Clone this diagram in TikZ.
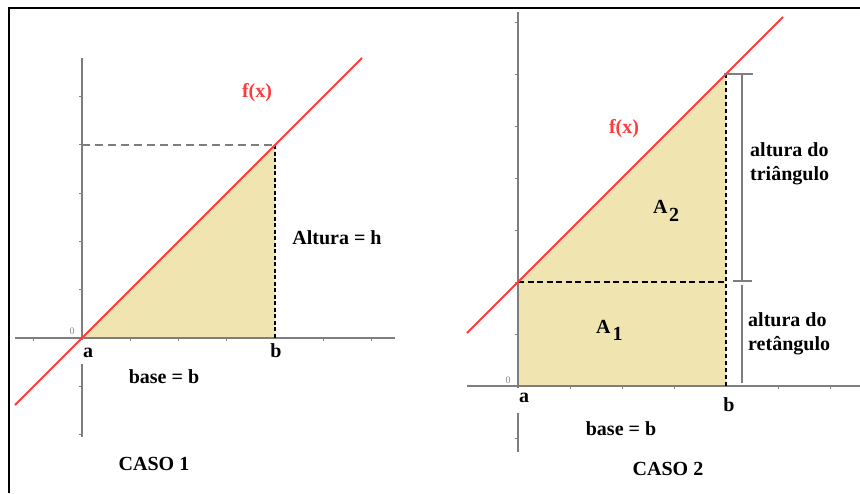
\documentclass[tikz,border=0pt]{standalone}
\usepackage{fontspec}
\setmainfont{Liberation Serif}
\definecolor{axgray}{HTML}{7E7E7E}
\definecolor{fxred}{HTML}{FF3B3B}
\definecolor{areafill}{HTML}{F0E4B0}
\definecolor{zerogray}{HTML}{8A8A8A}
\begin{document}
\begin{tikzpicture}[x=1pt,y=-1pt,
  axis/.style={draw=axgray,line width=1.4pt},
  tickmark/.style={draw=axgray,line width=1pt},
  fx/.style={draw=fxred,line width=2pt},
  graydash/.style={draw=axgray,line width=1.5pt,dash pattern=on 8pt off 5pt},
  blackdash/.style={draw=black,line width=2pt,dash pattern=on 4pt off 2.5pt},
  dimline/.style={draw=axgray,line width=1.3pt},
  lbl/.style={font=\fontsize{20}{23}\selectfont\bfseries,inner sep=0pt,anchor=base},
  redlbl/.style={lbl,text=fxred},
  zerolbl/.style={font=\fontsize{10}{10}\selectfont,text=zerogray,inner sep=0pt,anchor=base},
  frameline/.style={draw=black,line width=2.5pt}]
\useasboundingbox (0,0) rectangle (860,493);
% frame
\coordinate (FL) at (9,493);
\coordinate (FC) at (9,8);
\coordinate (FR) at (860,8);
\draw[frameline] (FL) -- (FC) -- (FR);

% ================= CASO 1 =================
\coordinate (O1) at (82,338);
\coordinate (B1) at (275,338);
\coordinate (T1) at (275,145);
\coordinate (Y1) at (82,145);
\coordinate (Ytop1) at (82,58);
\coordinate (Ygap1a) at (82,340);
\coordinate (Ygap1b) at (82,364);
\coordinate (Ybot1) at (82,437);
\coordinate (Xl1) at (15,338);
\coordinate (Xr1) at (395,338);
\coordinate (R1a) at (15,405);
\coordinate (R1b) at (362,58);
\fill[areafill] (O1) -- (B1) -- (T1) -- cycle;
\draw[axis] (Ytop1) -- (Ygap1a);
\draw[axis] (Ygap1b) -- (Ybot1);
\draw[axis] (Xl1) -- (Xr1);
\foreach \k in {1,2,3,4,5,-1,-2}
  \draw[tickmark] (82,{338-48.3*\k}) -- ++(-3,0);
\foreach \k in {-1,1,2,3,5,6}
  \draw[tickmark] ({82+48.3*\k},338) -- ++(0,3);
\draw[graydash] (Y1) -- (T1);
\draw[blackdash] (T1) -- (B1);
\draw[fx] (R1a) -- (R1b);
\node[redlbl] (fx1) at (257,97) {f(x)};
\node[lbl] (alt1) at (337,244) {Altura = h};
\node[lbl] (a1) at (88,357) {a};
\node[lbl] (b1) at (276,357) {b};
\node[lbl] (base1) at (164,383) {base = b};
\node[lbl] (caso1) at (154,470) {CASO 1};
\node[zerolbl] (z1) at (72,334) {0};

% ================= CASO 2 =================
\coordinate (O2) at (518,386);
\coordinate (B2) at (726,386);
\coordinate (T2) at (726,74);
\coordinate (M2) at (518,282);
\coordinate (MB2) at (726,282);
\coordinate (Ytop2) at (518,12);
\coordinate (Ygap2a) at (518,388);
\coordinate (Ygap2b) at (518,413);
\coordinate (Ybot2) at (518,452);
\coordinate (Xl2) at (467,386);
\coordinate (Xr2) at (860,386);
\coordinate (R2a) at (467,333);
\coordinate (R2b) at (783,17);
\fill[areafill] (O2) -- (B2) -- (T2) -- (M2) -- cycle;
\draw[axis] (Ytop2) -- (Ygap2a);
\draw[axis] (Ygap2b) -- (Ybot2);
\draw[axis] (Xl2) -- (Xr2);
\foreach \k in {1,2,3,4,5,6,7,-1}
  \draw[tickmark] (518,{386-52*\k}) -- ++(-3,0);
\foreach \k in {1,2,3,5,6}
  \draw[tickmark] ({518+52*\k},386) -- ++(0,3);
\draw[blackdash,line width=2.5pt,dash pattern=on 6pt off 3.5pt] (M2) -- (MB2);
\draw[blackdash,dash pattern=on 4pt off 3pt] (T2) -- (B2);
\draw[fx] (R2a) -- (R2b);
% dimension lines
\coordinate (D1t) at (742,74);
\coordinate (D1b) at (742,281);
\coordinate (D2t) at (742,285);
\coordinate (D2b) at (742,383);
\coordinate (K1l) at (724,74);
\coordinate (K1r) at (753,74);
\coordinate (K2l) at (733,281);
\coordinate (K2r) at (752,281);
\draw[dimline] (D1t) -- (D1b);
\draw[dimline] (D2t) -- (D2b);
\draw[dimline] (K1l) -- (K1r);
\draw[dimline] (K2l) -- (K2r);
\node[redlbl] (fx2) at (624,133) {f(x)};
\node[lbl,anchor=base west] (tri1) at (750,156) {altura do};
\node[lbl,anchor=base west] (tri2) at (750,180) {triângulo};
\node[lbl,anchor=base west] (ret1) at (748,326) {altura do};
\node[lbl,anchor=base west] (ret2) at (748,350) {retângulo};
\node[lbl,anchor=base west] (A2) at (653,213) {A\kern1.5pt\raisebox{-8pt}{2}};
\node[lbl,anchor=base west] (A1) at (596,333) {A\kern2pt\raisebox{-7pt}{1}};
\node[lbl] (a2) at (524,402) {a};
\node[lbl] (b2) at (729,411) {b};
\node[lbl] (base2) at (621,435) {base = b};
\node[lbl] (caso2) at (668,475) {CASO 2};
\node[zerolbl] (z2) at (508,383) {0};
\end{tikzpicture}
\end{document}
